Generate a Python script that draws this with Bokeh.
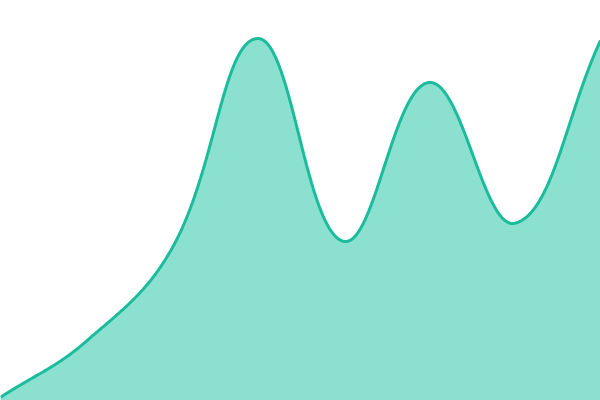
import numpy as np
from bokeh.plotting import figure
from bokeh.embed import file_html
from bokeh.resources import INLINE

# data
x_idx = [0, 1, 2, 3, 4, 5, 6, 7]
values = [0.8, 14.8, 38.0, 90.5, 39.8, 79.5, 44.3, 90.0]

LINE_COLOR = "#1abc9c"
FILL_COLOR = "#8be0cf"

W, H = 600, 400
Y_MAX = 100
TENSION = 0.4


def spline_curve(xs, ys, sx_scale, sy_scale, tension=0.4, n=60):
    # cubic bezier spline with distance-weighted control points (in screen units)
    P = np.column_stack([np.asarray(xs, float) * sx_scale,
                         np.asarray(ys, float) * sy_scale])
    m = len(P)
    cp_prev = P.copy()
    cp_next = P.copy()
    for i in range(m):
        prev = P[i - 1] if i > 0 else P[i]
        nxt = P[i + 1] if i < m - 1 else P[i]
        d01 = np.hypot(*(P[i] - prev))
        d12 = np.hypot(*(nxt - P[i]))
        tot = d01 + d12
        s01 = d01 / tot if tot else 0
        s12 = d12 / tot if tot else 0
        fa, fb = tension * s01, tension * s12
        cp_prev[i] = P[i] - fa * (nxt - prev)
        cp_next[i] = P[i] + fb * (nxt - prev)
    out = []
    for i in range(m - 1):
        t = np.linspace(0, 1, n, endpoint=(i == m - 2))[:, None]
        b = ((1 - t) ** 3 * P[i] + 3 * (1 - t) ** 2 * t * cp_next[i]
             + 3 * (1 - t) * t ** 2 * cp_prev[i + 1] + t ** 3 * P[i + 1])
        out.append(b)
    out = np.vstack(out)
    return out[:, 0] / sx_scale, out[:, 1] / sy_scale


sx, sy = spline_curve(x_idx, values, W / (x_idx[-1] - x_idx[0]), H / Y_MAX, TENSION)

p = figure(width=W, height=H, output_backend="svg", toolbar_location=None,
           x_range=(x_idx[0], x_idx[-1]), y_range=(0, Y_MAX),
           min_border=0, outline_line_color=None)
p.axis.visible = False
p.grid.visible = False
p.background_fill_color = "white"
p.border_fill_color = "white"

p.varea(x=sx, y1=np.zeros_like(sy), y2=sy, fill_color=FILL_COLOR)
p.line(sx, sy, line_color=LINE_COLOR, line_width=3)

open("out.html", "w").write(file_html(p, INLINE))
